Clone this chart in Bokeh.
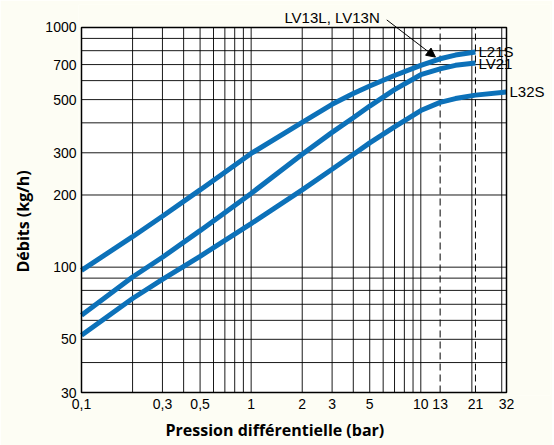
import math
from bokeh.plotting import figure
from bokeh.models import (FixedTicker, CustomJSTickFormatter, Arrow,
                          NormalHead, Label, Title)
from bokeh.embed import file_html
from bokeh.resources import INLINE

# ---- data ----
pressure = [0.1, 0.2, 0.3, 0.5, 1, 2, 3, 4, 5, 7, 10, 13, 16, 21]
debit_l21s = [97, 134, 163, 210, 298, 402, 478, 530, 570, 630, 695, 740, 767, 790]
debit_lv21 = [63, 91, 110, 142, 203, 296, 365, 420, 470, 550, 635, 672, 695, 710]
pressure_l32s = [0.1, 0.2, 0.3, 0.5, 1, 2, 3, 4, 5, 7, 10, 13, 16, 21, 32]
debit_l32s = [52, 74, 89, 111, 152, 210, 256, 295, 330, 385, 450, 487, 505, 522, 538]

x_limits = [0.1, 32]
y_limits = [30, 1000]
x_ticks = [0.1, 0.3, 0.5, 1, 2, 3, 5, 10, 13, 21, 32]
y_ticks = [30, 50, 100, 200, 300, 500, 700, 1000]
x_grid = [0.2, 0.3, 0.4, 0.5, 0.6, 0.7, 0.8, 0.9, 1, 2, 3, 4, 5, 6, 7, 8, 9, 10, 20, 30]
y_grid = [40, 50, 60, 70, 80, 90, 100, 200, 300, 400, 500, 600, 700, 800, 900]
dashed_x = [13, 21]

curve_labels = ["L21S", "LV21", "L32S"]
arrow_label = "LV13L, LV13N"
arrow_from = (6.3, 1075)
arrow_to = (12.2, 752)
arrow_text_pos = (1.57, 1095)

BLUE = "#0C71B9"
CREAM = "#FDFDF4"

# ---- layout (pixels) ----
FIG_W, FIG_H = 552, 445
BOX_L, BOX_R, BOX_T, BOX_B = 81, 506, 27, 393      # chart box
FRAME_L, FRAME_R, FRAME_T, FRAME_B = 78, 550, 4, 396

kx = (BOX_R - BOX_L) / math.log10(x_limits[1] / x_limits[0])
ky = (BOX_B - BOX_T) / math.log10(y_limits[1] / y_limits[0])
x_lo = x_limits[0] * 10 ** (-(BOX_L - FRAME_L) / kx)
x_hi = x_limits[0] * 10 ** ((FRAME_R - BOX_L) / kx)
y_lo = y_limits[0] * 10 ** (-(FRAME_B - BOX_B) / ky)
y_hi = y_limits[0] * 10 ** ((BOX_B - FRAME_T) / ky)

p = figure(width=FIG_W, height=FIG_H, x_axis_type="log", y_axis_type="log",
           x_range=(x_lo, x_hi), y_range=(y_lo, y_hi),
           output_backend="svg", toolbar_location=None,
           min_border_left=FRAME_L, min_border_right=FIG_W - FRAME_R,
           min_border_top=FRAME_T, min_border_bottom=FIG_H - FRAME_B)
p.background_fill_color = CREAM
p.border_fill_color = CREAM
p.outline_line_color = None
p.xgrid.visible = False
p.ygrid.visible = False

# chart box background
p.quad(left=[x_limits[0]], right=[x_limits[1]], bottom=[y_limits[0]],
       top=[y_limits[1]], fill_color="white", line_color=None)

# grid lines inside the box
n_x = len(x_grid)
p.segment(x0=x_grid, y0=[y_limits[0]] * n_x, x1=x_grid, y1=[y_limits[1]] * n_x,
          line_color="black", line_width=1, line_alpha=0.9)
n_y = len(y_grid)
p.segment(x0=[x_limits[0]] * n_y, y0=y_grid, x1=[x_limits[1]] * n_y, y1=y_grid,
          line_color="black", line_width=1, line_alpha=0.9)
n_d = len(dashed_x)
p.segment(x0=dashed_x, y0=[y_limits[0]] * n_d, x1=dashed_x, y1=[y_limits[1]] * n_d,
          line_color="black", line_width=1, line_dash="7 4")

# curves
p.line(pressure, debit_l21s, line_color=BLUE, line_width=5)
p.line(pressure, debit_lv21, line_color=BLUE, line_width=5)
p.line(pressure_l32s, debit_l32s, line_color=BLUE, line_width=5)

# box border
p.quad(left=[x_limits[0]], right=[x_limits[1]], bottom=[y_limits[0]],
       top=[y_limits[1]], fill_color=None, line_color="black", line_width=1.5)

# axes
p.xaxis.ticker = FixedTicker(ticks=x_ticks)
p.yaxis.ticker = FixedTicker(ticks=y_ticks)
p.xaxis.formatter = CustomJSTickFormatter(code="return String(tick).replace('.', ',');")
p.yaxis.formatter = CustomJSTickFormatter(code="return String(tick);")
for ax in (p.xaxis, p.yaxis):
    ax.axis_line_color = None
    ax.major_tick_line_color = None
    ax.minor_tick_line_color = None
    ax.major_tick_out = 0
    ax.major_tick_in = 0
    ax.major_label_text_font = "Liberation Sans"
    ax.major_label_text_font_size = "14px"
    ax.major_label_text_color = "black"
p.xaxis.major_label_standoff = 3
p.yaxis.major_label_standoff = 2

p.add_layout(Title(text="Pression différentielle (bar)", align="left", offset=87,
                   text_font="Open Sans", text_font_style="bold",
                   text_font_size="16px", text_color="black", standoff=10), "below")
p.add_layout(Title(text="Débits (kg/h)", align="left", offset=123,
                   text_font="Open Sans", text_font_style="bold",
                   text_font_size="16px", text_color="black", standoff=18), "left")

ends = [(pressure[-1], debit_l21s[-1]), (pressure[-1], debit_lv21[-1]),
        (pressure_l32s[-1], debit_l32s[-1])]
for txt, (xe, ye) in zip(curve_labels, ends):
    p.add_layout(Label(x=xe, y=ye, text=txt, x_offset=3, text_baseline="middle",
                       text_align="left", text_font="Liberation Sans",
                       text_font_size="15px", text_color="black"))

p.add_layout(Arrow(x_start=arrow_from[0], y_start=arrow_from[1],
                   x_end=arrow_to[0], y_end=arrow_to[1],
                   line_color="black", line_width=1,
                   end=NormalHead(size=9, fill_color="black", line_color="black")))
p.add_layout(Label(x=arrow_text_pos[0], y=arrow_text_pos[1], text=arrow_label,
                   text_baseline="middle", text_align="left",
                   text_font="Liberation Sans", text_font_size="15px",
                   text_color="black"))

open("out.html", "w").write(file_html(p, INLINE))
